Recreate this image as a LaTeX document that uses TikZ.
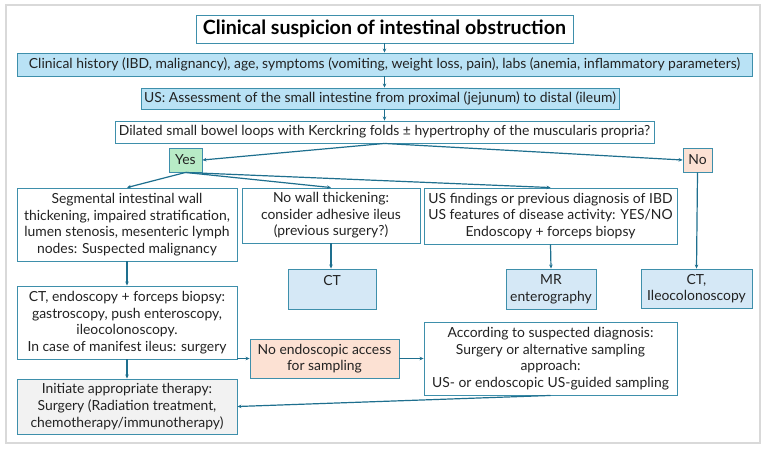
\documentclass[tikz,border=0pt]{standalone}
\usepackage{fontspec}
\setmainfont{Lato}
\usetikzlibrary{arrows.meta}
\definecolor{bordc}{HTML}{3E8FAB}
\definecolor{linec}{HTML}{1E6F8E}
\definecolor{hdrblue}{HTML}{B9E2F5}
\definecolor{ltblue}{HTML}{D5E8F6}
\definecolor{yesg}{HTML}{B8EBC6}
\definecolor{peach}{HTML}{FCE1D3}
\definecolor{greyf}{HTML}{F2F2F2}
\definecolor{framec}{HTML}{D9D9D9}
\definecolor{txt}{HTML}{222222}
\begin{document}
\begin{tikzpicture}[x=1pt,y=-1pt,
  box/.style={draw=bordc, line width=0.9pt, inner sep=0pt, align=center, text=txt,
    font=\fontsize{13.9}{16.6}\selectfont},
  arr/.style={draw=linec, line width=1.2pt, -{Stealth[length=4pt,width=3.5pt]}}]
\useasboundingbox (0,0) rectangle (767,451);
\draw[framec, line width=1.5pt, fill=white] (6,5) rectangle (760,443);

\node[box, fill=white, minimum width=377pt, minimum height=28pt, font=\fontsize{19.6}{22}\selectfont\bfseries, text=black] (title) at (384.5,29) {Clinical suspicion of intestinal obstruction};
\node[box, fill=hdrblue, minimum width=735pt, minimum height=23pt] (hist) at (384.5,64.5) {Clinical history (IBD, malignancy), age, symptoms (vomiting, weight loss, pain), labs (anemia, inflammatory parameters)};
\node[box, fill=hdrblue, minimum width=478pt, minimum height=21pt] (us) at (380,98.5) {US: Assessment of the small intestine from proximal (jejunum) to distal (ileum)};
\node[box, fill=white, minimum width=539pt, minimum height=22pt] (dil) at (384.5,132) {Dilated small bowel loops with Kerckring folds ± hypertrophy of the muscularis propria?};
\node[box, fill=yesg, minimum width=33pt, minimum height=24pt] (yes) at (185.5,160) {Yes};
\node[box, fill=peach, minimum width=29pt, minimum height=24pt] (no) at (697.5,160) {No};
\node[box, fill=white, minimum width=220pt, minimum height=73pt] (seg) at (127,224.5) {Segmental intestinal wall\\thickening, impaired stratification,\\lumen stenosis, mesenteric lymph\\nodes: Suspected malignancy};
\node[box, fill=white, minimum width=178pt, minimum height=55pt] (nowall) at (331,215.5) {No wall thickening:\\consider adhesive ileus\\(previous surgery?)};
\node[box, fill=white, minimum width=253pt, minimum height=56pt] (usf) at (550.5,216) {US findings or previous diagnosis of IBD\\US features of disease activity: YES/NO\\Endoscopy + forceps biopsy};
\node[box, fill=ltblue, minimum width=88pt, minimum height=40pt] (ct) at (332,289) {CT\\\mbox{}};
\node[box, fill=ltblue, minimum width=90pt, minimum height=40pt] (mr) at (551,289) {MR\\enterography};
\node[box, fill=ltblue, minimum width=111pt, minimum height=39pt] (cti) at (696.5,288.5) {CT,\\Ileocolonoscopy};
\node[box, fill=white, minimum width=220pt, minimum height=73pt] (cte) at (127,322.5) {CT, endoscopy + forceps biopsy:\\gastroscopy, push enteroscopy,\\ileocolonoscopy.\\In case of manifest ileus: surgery};
\node[box, fill=peach, minimum width=149pt, minimum height=39pt] (noendo) at (324.5,358.5) {No endoscopic access\\for sampling};
\node[box, fill=white, minimum width=253pt, minimum height=73pt] (acc) at (550.5,358.5) {According to suspected diagnosis:\\Surgery or alternative sampling\\approach:\\US- or endoscopic US-guided sampling};
\node[box, fill=greyf, minimum width=220pt, minimum height=55pt] (init) at (127,406.5) {Initiate appropriate therapy:\\Surgery (Radiation treatment,\\chemotherapy/immunotherapy)};

\draw[arr] (title.south) -- (hist.north);
\draw[arr] (hist.south) -- (hist.south |- us.north);
\draw[arr] (hist.south |- us.south) -- (dil.north);
\draw[arr] (dil.south) -- (yes.east);
\draw[arr] (dil.south) -- (no.west);
\draw[arr] (yes.south) -- (seg.north);
\draw[arr] (yes.south) -- (nowall.north);
\draw[arr] (yes.south) -- (usf.north);
\draw[arr] (no.south) -- (cti.north);
\draw[arr] (nowall.south) -- (nowall.south |- ct.north);
\draw[arr] (usf.south) -- (mr.north);
\draw[arr] (seg.south) -- (cte.north);
\draw[arr] (cte.south) -- (init.north);
\draw[arr] (noendo.west -| cte.east) -- (noendo.west);
\draw[arr] (noendo.east) -- (acc.west);
\draw[arr] (acc.south) -- (init.east);
\end{tikzpicture}
\end{document}
